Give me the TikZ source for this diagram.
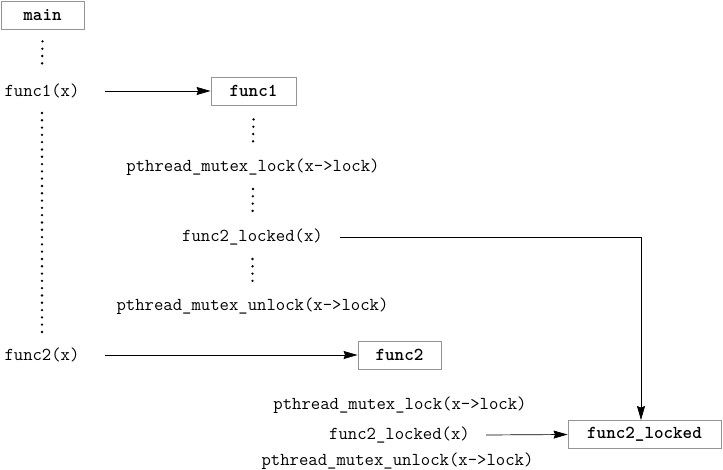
\documentclass[tikz,border=0pt]{standalone}
\usepackage{fontspec}
\usetikzlibrary{arrows.meta}
\begin{document}
\begin{tikzpicture}[x=1pt,y=-1pt,
  fbox/.style={draw=black!42, line width=0.9pt, minimum height=28pt, inner sep=0pt,
    font=\fontsize{18.2}{20}\selectfont\ttfamily\bfseries\addfontfeature{FakeBold=1.6}},
  call/.style={inner sep=0pt, font=\fontsize{18.2}{20}\selectfont\ttfamily},
  arr/.style={line width=0.7pt, -{Stealth[length=14pt,width=8pt,inset=1.5pt]}},
  dotline/.style={line width=2.6pt, dash pattern=on 0pt off 7.3pt, line cap=round}]
\path[use as bounding box] (0,0) rectangle (723,470);
\node[fbox, minimum width=83pt] (main) at (42.5,15) {main};
\node[call] (c1) at (42,91) {func1(x)};
\node[fbox, minimum width=85pt] (f1) at (253.5,91) {func1};
\node[call] (l1) at (253,167) {pthread\_mutex\_lock(x->lock)};
\node[call] (g1) at (252.5,237) {func2\_locked(x)};
\node[call] (u1) at (252.5,306) {pthread\_mutex\_unlock(x->lock)};
\node[call] (c2) at (42,355) {func2(x)};
\node[fbox, minimum width=83pt] (f2) at (399.5,355) {func2};
\node[call] (l2) at (400,405) {pthread\_mutex\_lock(x->lock)};
\node[call] (g2) at (399.5,435) {func2\_locked(x)};
\node[fbox, minimum width=153pt] (f2l) at (644.5,434.5) {func2\_locked};
\node[call] (u2) at (397.5,461) {pthread\_mutex\_unlock(x->lock)};
% dotted flows
\draw[dotline] ([yshift=-12pt]main.south) -- ([yshift=21pt]c1.center);
\draw[dotline] ([yshift=-22pt]c1.center) -- ([yshift=17pt]c2.center);
\draw[dotline] ([yshift=-14pt]f1.south) -- ([yshift=20pt]l1.center);
\draw[dotline] ([yshift=-22pt]l1.center) -- ([yshift=20pt]g1.center);
\draw[dotline] ([yshift=-22pt]g1.center) -- ([yshift=19pt]u1.center);
% calls
\draw[arr] (c1.center) ++(63pt,0) -- (f1.west);
\draw[arr] (c2.center) ++(63pt,0) -- (f2.west);
\draw[arr] (g2.center) ++(86.5pt,0) -- (f2l.west);
\draw[arr] (g1.center) ++(87.5pt,0) -| ([xshift=-3.5pt]f2l.north);
\end{tikzpicture}
\end{document}
